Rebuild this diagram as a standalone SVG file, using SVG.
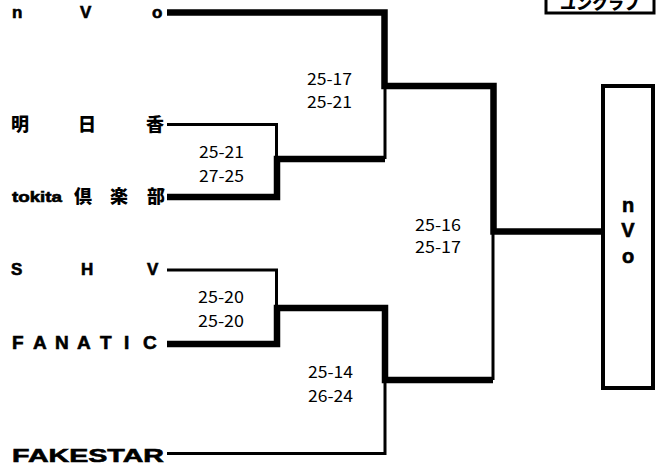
<svg xmlns="http://www.w3.org/2000/svg" width="657" height="466" viewBox="0 0 657 466">
<style>
.team{font-family:"Liberation Sans","Noto Sans CJK JP",sans-serif;font-weight:bold;fill:#000;stroke:#000;stroke-width:0.6}
.jp{font-family:"Noto Sans CJK JP",sans-serif;font-weight:900;fill:#000}
.score{font-family:"Noto Sans CJK JP","Liberation Mono",monospace;font-size:16px;fill:#000}
.thin{fill:none;stroke:#000;stroke-width:3}
.thick{fill:none;stroke:#000;stroke-width:6.5}
</style>
<rect width="657" height="466" fill="#fff"/>
<g id="title">
<rect x="546" y="-6" width="108" height="19" fill="#fff" stroke="#000" stroke-width="3"/>
<text x="600" y="9" text-anchor="middle" class="jp" font-size="16">ユンクラブ</text>
</g>
<g id="connectors">
<path class="thin" d="M167 124.5 H276.5 V159"/>
<path class="thin" d="M167 270 H276.5 V308"/>
<path class="thin" d="M385 86 V159"/>
<path class="thin" d="M167 453.5 H385 V380"/>
<path class="thin" d="M493 380 V231"/>
<path class="thick" d="M167 12.5 H384.5 V86 H493.5 V231.5 H603"/>
<path class="thick" d="M167 197 H277 V159 H385"/>
<path class="thick" d="M167 344 H277 V308 H385 V380 H493"/>
</g>
<g id="team-nvo"><text class="team" font-size="17" x="12 80 152" y="18">nVo</text></g>
<g id="team-asuka"><text class="jp" font-size="18" x="11 78 146" y="131">明日香</text></g>
<g id="team-tokita"><text class="team" font-size="15" x="12" y="202" textLength="50" lengthAdjust="spacingAndGlyphs">tokita</text><text class="jp" font-size="18" x="74 110 147" y="203">倶楽部</text></g>
<g id="team-shv"><text class="team" font-size="17" x="11 81 147" y="275">SHV</text></g>
<g id="team-fanatic"><text class="team" font-size="19" x="12 33 55 77 100 124 143" y="349">FANATIC</text></g>
<g id="team-fakestar"><text class="team" font-size="19" x="12" y="462" textLength="152" lengthAdjust="spacingAndGlyphs">FAKESTAR</text></g>
<g id="champion">
<rect x="603" y="86" width="50" height="302" fill="#fff" stroke="#000" stroke-width="4"/>
<text class="team" font-size="20" text-anchor="middle" x="628" y="212">n</text>
<text class="team" font-size="20" text-anchor="middle" x="628" y="237">V</text>
<text class="team" font-size="20" text-anchor="middle" x="628" y="263">o</text>
</g>
<g id="scores">
<text class="score" x="307" y="85" textLength="45" lengthAdjust="spacingAndGlyphs">25-17</text>
<text class="score" x="307" y="108" textLength="45" lengthAdjust="spacingAndGlyphs">25-21</text>
<text class="score" x="199" y="158" textLength="45" lengthAdjust="spacingAndGlyphs">25-21</text>
<text class="score" x="199" y="182" textLength="45" lengthAdjust="spacingAndGlyphs">27-25</text>
<text class="score" x="415" y="231" textLength="46" lengthAdjust="spacingAndGlyphs">25-16</text>
<text class="score" x="415" y="253" textLength="46" lengthAdjust="spacingAndGlyphs">25-17</text>
<text class="score" x="198" y="303" textLength="46" lengthAdjust="spacingAndGlyphs">25-20</text>
<text class="score" x="198" y="327" textLength="46" lengthAdjust="spacingAndGlyphs">25-20</text>
<text class="score" x="308" y="378" textLength="45" lengthAdjust="spacingAndGlyphs">25-14</text>
<text class="score" x="308" y="402" textLength="45" lengthAdjust="spacingAndGlyphs">26-24</text>
</g>
</svg>
